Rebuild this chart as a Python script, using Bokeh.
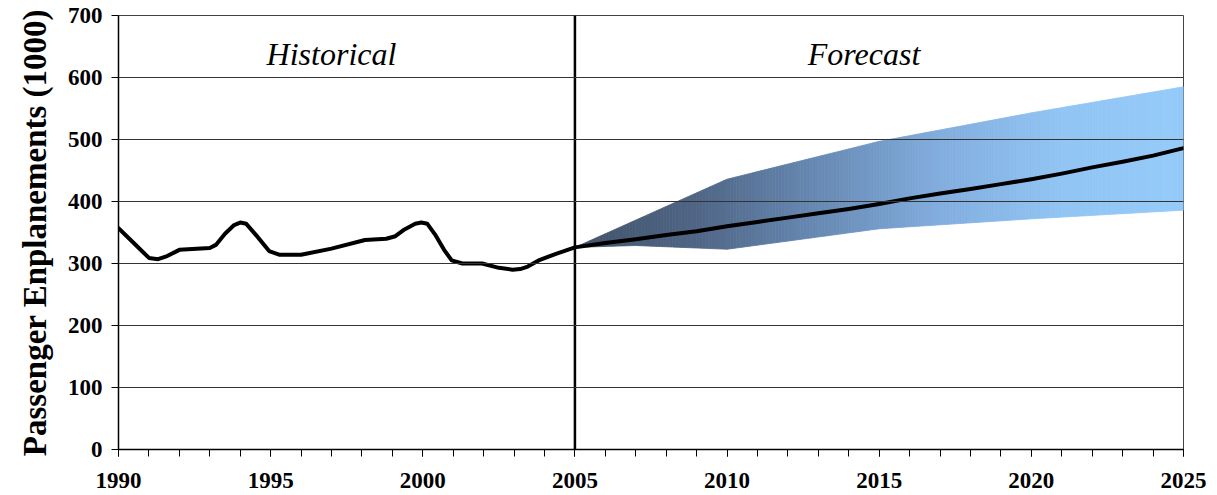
import numpy as np
from bokeh.plotting import figure
from bokeh.models import Range1d, SingleIntervalTicker, Span, Label
from bokeh.embed import file_html
from bokeh.resources import INLINE

# ---- data ----
hist_year = [1990.0, 1990.5, 1991.0, 1991.3, 1991.6, 1992.0, 1993.0, 1993.2, 1993.5, 1993.8, 1994.0,
             1994.2, 1994.5, 1994.95, 1995.3, 1996.0, 1997.0, 1998.1, 1998.8, 1999.1, 1999.4,
             1999.75, 1999.95, 2000.15, 2000.4, 2000.7, 2000.95, 2001.3, 2001.95, 2002.5, 2002.95,
             2003.2, 2003.45, 2003.85, 2004.4, 2005.0]
hist_value = [357, 333, 309, 307, 312, 322, 325, 330, 348, 362, 366,
              364, 347, 320, 314, 314, 324, 338, 340, 344, 355,
              364, 366, 364, 347, 322, 305, 300, 300, 293, 290,
              291, 295, 306, 316, 326]

fc_year = [2005, 2006, 2007, 2008, 2009, 2010, 2011, 2012, 2013, 2014, 2015,
           2016, 2017, 2018, 2019, 2020, 2021, 2022, 2023, 2024, 2025]
fc_value = [326, 333, 339, 346, 352, 360, 367, 374, 381, 388, 396,
            405, 413, 420, 428, 436, 445, 455, 464, 474, 486]

band_hi_year = [2005, 2010, 2015, 2020, 2025]
band_hi_value = [326, 436, 497, 543, 585]
band_lo_year = [2005, 2007, 2010, 2015, 2020, 2025]
band_lo_value = [326, 329, 323, 356, 372, 386]

y_ticks = [0, 100, 200, 300, 400, 500, 600, 700]
x_labels = ["1990", "1995", "2000", "2005", "2010", "2015", "2020", "2025"]

# gradient colour stops (style)
grad_x = [2005, 2009, 2013, 2017, 2021, 2025]
grad_rgb = [(66, 84, 106), (80, 102, 134), (104, 138, 180), (130, 174, 222), (146, 197, 244), (149, 203, 250)]

p = figure(width=1217, height=495, output_backend="svg", toolbar_location=None,
           x_range=Range1d(1990, 2025), y_range=Range1d(0, 700),
           min_border_left=118, min_border_right=34, min_border_top=15, min_border_bottom=46)
p.background_fill_color = "white"
p.border_fill_color = "white"
p.outline_line_color = "#444444"
p.outline_line_width = 1

# gradient band built from slices
edges = np.linspace(fc_year[0], fc_year[-1], 201)
xs, ys, cols = [], [], []
for a, b in zip(edges[:-1], edges[1:]):
    lo_a, lo_b = np.interp([a, b], band_lo_year, band_lo_value)
    hi_a, hi_b = np.interp([a, b], band_hi_year, band_hi_value)
    xs.append([a, b, b, a])
    ys.append([lo_a, lo_b, hi_b, hi_a])
    m = 0.5 * (a + b)
    r = int(np.interp(m, grad_x, [c[0] for c in grad_rgb]))
    g = int(np.interp(m, grad_x, [c[1] for c in grad_rgb]))
    bl = int(np.interp(m, grad_x, [c[2] for c in grad_rgb]))
    cols.append("#%02x%02x%02x" % (r, g, bl))
p.patches(xs=xs, ys=ys, fill_color=cols, line_color=cols, line_width=0.8)

# grid drawn above band
p.xgrid.visible = False
p.ygrid.grid_line_color = "#333333"
p.ygrid.grid_line_width = 1
p.ygrid.level = "overlay"
p.ygrid.ticker = SingleIntervalTicker(interval=100, num_minor_ticks=0)

p.line(hist_year, hist_value, line_color="black", line_width=4, line_join="round", line_cap="round")
p.line(fc_year, fc_value, line_color="black", line_width=4, line_join="round", line_cap="round")

p.add_layout(Span(location=2005, dimension="height", line_color="black", line_width=2.5))

font = "Liberation Serif"
p.add_layout(Label(x=1997, y=638, text="Historical", text_font=font, text_font_style="italic",
                   text_font_size="32px", text_align="center", text_baseline="alphabetic",
                   text_color="black"))
p.add_layout(Label(x=2014.5, y=638, text="Forecast", text_font=font, text_font_style="italic",
                   text_font_size="32px", text_align="center", text_baseline="alphabetic",
                   text_color="black"))

# axes
xa = p.xaxis[0]
xa.ticker = SingleIntervalTicker(interval=5, num_minor_ticks=5)
xa.major_label_overrides = {int(l): l for l in x_labels}
xa.major_label_text_font = font
xa.major_label_text_font_style = "bold"
xa.major_label_text_font_size = "23px"
xa.major_label_text_color = "black"
xa.major_label_standoff = 16
xa.major_tick_in = 0
xa.major_tick_out = 7
xa.minor_tick_in = 0
xa.minor_tick_out = 7
xa.axis_line_color = "black"
xa.axis_line_width = 1.5
xa.major_tick_line_color = "black"
xa.minor_tick_line_color = "black"

ya = p.yaxis[0]
ya.ticker = SingleIntervalTicker(interval=100, num_minor_ticks=0)
ya.major_label_text_font = font
ya.major_label_text_font_style = "bold"
ya.major_label_text_font_size = "23px"
ya.major_label_text_color = "black"
ya.major_label_standoff = 9
ya.major_tick_in = 0
ya.major_tick_out = 7
ya.minor_tick_line_color = None
ya.axis_line_color = "black"
ya.axis_line_width = 1.5
ya.major_tick_line_color = "black"
ya.axis_label = "Passenger Enplanements (1000)"
ya.axis_label_text_font = font
ya.axis_label_text_font_style = "bold"
ya.axis_label_text_font_size = "33px"
ya.axis_label_text_color = "black"
ya.axis_label_standoff = 12

open("out.html", "w").write(file_html(p, INLINE))
